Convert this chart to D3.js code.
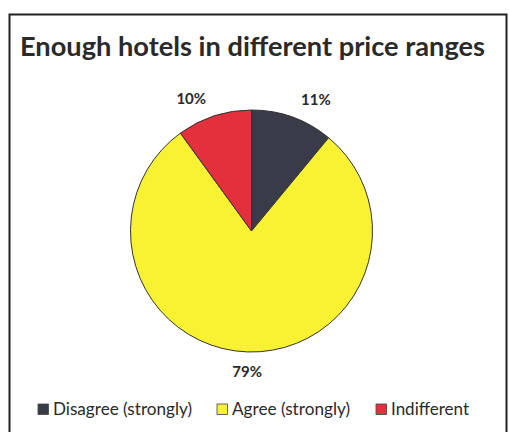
<!DOCTYPE html>
<html><head><meta charset="utf-8">
<script src="https://cdn.jsdelivr.net/npm/d3@7"></script>
<style>body{margin:0;background:#fff}svg{display:block}</style>
</head><body><svg id="c" width="509" height="432"></svg>
<script>
const categories = ["Disagree (strongly)", "Agree (strongly)", "Indifferent"];
const values = [11, 79, 10];
const labels = ["11%", "79%", "10%"];
const colors = ["#3a3b48", "#f8f232", "#e4303c"];

const svg = d3.select("#c");
svg.append("rect").attr("x",9.5).attr("y",14.5).attr("width",497).attr("height",430)
  .attr("fill","#fff").attr("stroke","#222").attr("stroke-width",2);

svg.append("text").attr("x",20).attr("y",56).attr("font-family","Lato, 'Open Sans', sans-serif")
  .attr("font-weight","bold").attr("font-size",26.5).attr("fill","#2a2a2a")
  .attr("textLength",465).attr("lengthAdjust","spacingAndGlyphs")
  .text("Enough hotels in different price ranges");

const cx = 251.5, cy = 231, r = 121;
const pie = d3.pie().sort(null).value(d=>d)(values);
const arc = d3.arc().innerRadius(0).outerRadius(r);
const g = svg.append("g").attr("transform",`translate(${cx},${cy})`);
g.selectAll("path").data(pie).join("path").attr("d",arc)
  .attr("fill",(d,i)=>colors[i]).attr("stroke","#333").attr("stroke-width",1);

const labelArc = d3.arc().innerRadius(140).outerRadius(140);
g.selectAll("text").data(pie).join("text")
  .attr("transform",d=>{
    const [x,y]=labelArc.centroid(d);
    const mid=(d.startAngle+d.endAngle)/2;
    const shift = Math.abs(Math.sin(mid))>0.2 ? Math.sign(Math.sin(mid))*17 : 0;
    return `translate(${x+shift},${y})`;})
  .attr("text-anchor","middle").attr("dominant-baseline","central")
  .attr("font-family","Lato, 'Open Sans', sans-serif").attr("font-weight","bold")
  .attr("font-size",15).attr("fill","#2a2a2a").text((d,i)=>labels[i]);

const legX = [38, 217, 376];
const legW = [139, 118, 78];
const lg = svg.append("g");
categories.forEach((c,i)=>{
  lg.append("rect").attr("x",legX[i]).attr("y",404).attr("width",10.5).attr("height",10.5)
    .attr("fill",colors[i]).attr("stroke","#444").attr("stroke-width",0.8);
  lg.append("text").attr("x",legX[i]+15).attr("y",415)
    .attr("font-family","Lato, 'Open Sans', sans-serif").attr("font-size",17).attr("fill","#2a2a2a")
    .attr("textLength",legW[i]).attr("lengthAdjust","spacingAndGlyphs").text(c);
});
</script></body></html>
